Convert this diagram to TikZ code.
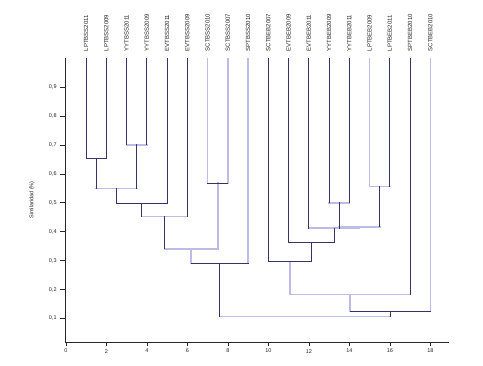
\documentclass[tikz,border=0pt]{standalone}
\usepackage{fontspec}
\setmainfont{Liberation Sans}
\definecolor{dkc}{RGB}{52,52,104}
\definecolor{ltc}{RGB}{188,188,230}
\definecolor{axc}{RGB}{40,40,40}
\definecolor{txc}{RGB}{35,35,35}
\begin{document}
\begin{tikzpicture}[x=1pt,y=-1pt,
  dk/.style={draw=dkc,line width=1pt,line cap=rect},
  lt/.style={draw=ltc,line width=1.6pt,line cap=rect},
  axis/.style={draw=axc,line width=0.9pt},
  tickmark/.style={draw=axc,line width=0.7pt},
  leaflab/.style={rotate=90,anchor=west,inner sep=0pt,text=txc,font=\fontsize{6}{7}\selectfont},
  ticklab/.style={inner sep=0pt,text=txc,font=\fontsize{5.5}{6.5}\selectfont}]
\useasboundingbox (0,0) rectangle (483,365);
\node[rotate=90,text=txc,font=\fontsize{5.5}{6.5}\selectfont] (ylab) at (32,200) {Similaridad (\%)};
\begin{scope}[shift={(65.9pt,-347.2pt)},x=20.25pt,y=288.75pt]
  % axes
  \coordinate (o) at (0,0.0156);
  \coordinate (xe) at (18.92,0.0156);
  \coordinate (ye) at (0,1.0);
  \draw[axis] (ye) -- (o) -- (xe);
  \foreach \v/\t in {0.1/{0,1},0.2/{0,2},0.3/{0,3},0.4/{0,4},0.5/{0,5},0.6/{0,6},0.7/{0,7},0.8/{0,8},0.9/{0,9}} {
    \draw[tickmark] (-0.27,\v) -- (0,\v);
    \node[ticklab,anchor=east] (yt\v) at (-0.45,\v) {\t};
  }
  \foreach \v in {0,2,...,18} {
    \draw[tickmark] (\v,0.0156) -- (\v,0.0046);
    \node[ticklab] (xt\v) at (\v,-0.0135) {\v};
  }
  % leaves
  \foreach \i/\n in {1/LPTBSS2011,2/LPTBSS2009,3/YYTBSS2011,4/YYTBSS2009,5/EVTBSS2011,6/EVTBSS2009,7/SCTBSS2010,8/SCTBSS2007,9/SPTBSS2010,10/SCTBEB2007,11/EVTBEB2009,12/EVTBEB2011,13/YYTBEB2009,14/YYTBEB2011,15/LPTBEB2009,16/LPTBEB2011,17/SPTBEB2010,18/SCTBEB2010} {
    \coordinate (L\i) at (\i,1.0);
    \node[leaflab] (lab\i) at (\i,1.024) {\n};
  }
  % light segments
  \draw[lt] (7,1) -- (7,0.568);
  \draw[lt] (8,1) -- (8,0.568);
  \draw[lt] (9,1) -- (9,0.291);
  \draw[lt] (15,1) -- (15,0.556);
  \draw[lt] (18,1) -- (18,0.123);
  \draw[lt] (3,0.701) -- (4,0.701);
  \draw[lt] (1.5,0.549) -- (3.5,0.549);
  \draw[lt] (3.75,0.452) -- (6,0.452);
  \draw[lt] (7.5,0.568) -- (7.5,0.341);
  \draw[lt] (4.875,0.341) -- (7.5,0.341);
  \draw[lt] (6.1875,0.341) -- (6.1875,0.291);
  \draw[lt] (7.59375,0.106) -- (16.015625,0.106);
  \draw[lt] (13,0.5) -- (14,0.5);
  \draw[lt] (15,0.556) -- (16,0.556);
  \draw[lt] (13.5,0.417) -- (15.5,0.417);
  \draw[lt] (12,0.412) -- (14.5,0.412);
  \draw[lt] (14.5,0.417) -- (14.5,0.412);
  \draw[lt] (11.0625,0.297) -- (11.0625,0.182);
  \draw[lt] (11.0625,0.182) -- (17,0.182);
  \draw[lt] (14.03125,0.182) -- (14.03125,0.123);
  % dark segments
  \draw[dk] (1,1) -- (1,0.652) -- (2,0.652) -- (2,1);
  \draw[dk] (3,1) -- (3,0.701);
  \draw[dk] (4,1) -- (4,0.701);
  \draw[dk] (1.5,0.652) -- (1.5,0.549);
  \draw[dk] (3.5,0.701) -- (3.5,0.549);
  \draw[dk] (2.5,0.549) -- (2.5,0.499) -- (5,0.499) -- (5,1);
  \draw[dk] (3.75,0.499) -- (3.75,0.452);
  \draw[dk] (6,1) -- (6,0.452);
  \draw[dk] (4.875,0.452) -- (4.875,0.341);
  \draw[dk] (7,0.568) -- (8,0.568);
  \draw[dk] (6.1875,0.291) -- (9,0.291);
  \draw[dk] (7.59375,0.291) -- (7.59375,0.106);
  \draw[dk] (13,1) -- (13,0.5);
  \draw[dk] (14,1) -- (14,0.5);
  \draw[dk] (16,1) -- (16,0.556);
  \draw[dk] (13.5,0.5) -- (13.5,0.412);
  \draw[dk] (15.5,0.556) -- (15.5,0.417);
  \draw[dk] (12,1) -- (12,0.412);
  \draw[dk] (13.25,0.412) -- (13.25,0.363) -- (11,0.363) -- (11,1);
  \draw[dk] (12.125,0.363) -- (12.125,0.297) -- (10,0.297) -- (10,1);
  \draw[dk] (17,1) -- (17,0.182);
  \draw[dk] (14.03125,0.123) -- (18,0.123);
  \draw[dk] (16.015625,0.123) -- (16.015625,0.106);
\end{scope}
\end{tikzpicture}
\end{document}
